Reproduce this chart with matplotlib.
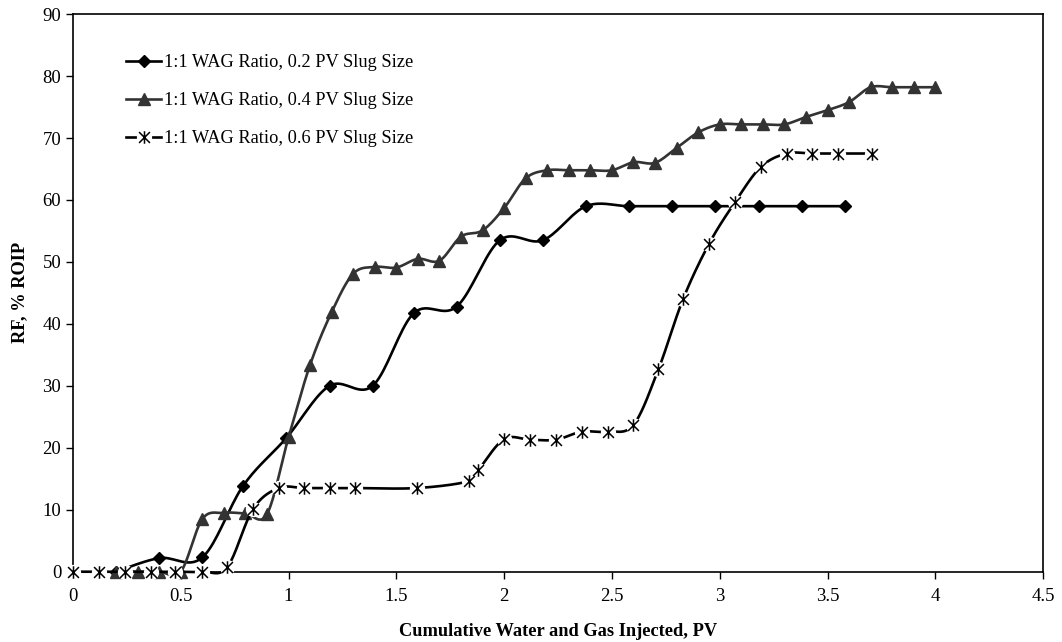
import numpy as np
import matplotlib
matplotlib.use("Agg")
import matplotlib.pyplot as plt
from matplotlib.path import Path
from matplotlib.lines import Line2D
from matplotlib.legend_handler import HandlerTuple

# Data
x_02 = [0.2, 0.4, 0.6, 0.79, 0.99, 1.19, 1.39, 1.58, 1.78, 1.98, 2.18, 2.38,
        2.58, 2.78, 2.98, 3.18, 3.38, 3.58]
rf_02 = [0, 2.2, 2.3, 13.9, 21.6, 30.0, 30.0, 41.7, 42.8, 53.5, 53.5, 59.0,
         59.0, 59.0, 59.0, 59.0, 59.0, 59.0]

x_04 = [0.2, 0.3, 0.4, 0.5, 0.6, 0.7, 0.8, 0.9, 1.0, 1.1, 1.2, 1.3, 1.4, 1.5,
        1.6, 1.7, 1.8, 1.9, 2.0, 2.1, 2.2, 2.3, 2.4, 2.5, 2.6, 2.7, 2.8, 2.9,
        3.0, 3.1, 3.2, 3.3, 3.4, 3.5, 3.6, 3.7, 3.8, 3.9, 4.0]
rf_04 = [0, 0, 0, 0, 8.5, 9.5, 9.4, 9.3, 21.7, 33.4, 41.9, 48.1, 49.2, 49.1,
         50.5, 50.2, 54.1, 55.1, 58.7, 63.5, 64.8, 64.8, 64.8, 64.8, 66.1,
         66.0, 68.4, 70.9, 72.2, 72.2, 72.2, 72.2, 73.4, 74.5, 75.8, 78.2,
         78.2, 78.2, 78.2]

x_06 = [0.0, 0.12, 0.24, 0.36, 0.475, 0.6, 0.715, 0.835, 0.954, 1.073, 1.19,
        1.31, 1.595, 1.835, 1.88, 2.0, 2.12, 2.24, 2.36, 2.48, 2.6, 2.716,
        2.83, 2.95, 3.07, 3.19, 3.31, 3.43, 3.55, 3.706]
rf_06 = [0, 0, 0, 0, 0, 0, 0.7, 10.1, 13.5, 13.5, 13.5, 13.5, 13.5, 14.6,
         16.4, 21.4, 21.3, 21.3, 22.6, 22.6, 23.7, 32.7, 44.0, 52.9, 59.6,
         65.3, 67.5, 67.5, 67.5, 67.5]

labels = ["1:1 WAG Ratio, 0.2 PV Slug Size",
          "1:1 WAG Ratio, 0.4 PV Slug Size",
          "1:1 WAG Ratio, 0.6 PV Slug Size"]

plt.rcParams['font.family'] = ['Liberation Serif', 'DejaVu Serif']
FS_TICK = 13.5
FS_LEG = 13.2
FS_LAB = 13.2
GRAY = "#333333"


def smooth(xs, ys, n=20):
    """Excel-like smoothed line (Catmull-Rom as cubic Bezier)."""
    p = np.column_stack([xs, ys]).astype(float)
    ext = np.vstack([p[0], p, p[-1]])
    out = []
    t = np.linspace(0, 1, n)[:, None]
    for i in range(1, len(ext) - 2):
        p0, p1, p2, p3 = ext[i - 1], ext[i], ext[i + 1], ext[i + 2]
        c1 = p1 + (p2 - p0) / 6.0
        c2 = p2 - (p3 - p1) / 6.0
        seg = ((1 - t) ** 3) * p1 + 3 * ((1 - t) ** 2) * t * c1 \
            + 3 * (1 - t) * t ** 2 * c2 + t ** 3 * p2
        out.append(seg if i == 1 else seg[1:])
    out = np.vstack(out)
    return out[:, 0], out[:, 1]


# asterisk marker: an X with a vertical bar
star = Path([(-1, -1), (1, 1), (-1, 1), (1, -1), (0, -1.15), (0, 1.15)],
            [Path.MOVETO, Path.LINETO, Path.MOVETO, Path.LINETO,
             Path.MOVETO, Path.LINETO])

fig = plt.figure(figsize=(10.62, 6.42), dpi=100)
ax = fig.add_axes([0.0687, 0.1095, 0.9135, 0.8685])

# series 1: diamonds
sx, sy = smooth(x_02, rf_02)
ax.plot(sx, sy, color="black", lw=1.9, clip_on=False, zorder=2)
ax.plot(x_02, rf_02, ls="none", marker="D", ms=5.8, color="black",
        clip_on=False, zorder=3)

# series 2: triangles
sx, sy = smooth(x_04, rf_04)
ax.plot(sx, sy, color=GRAY, lw=1.9, clip_on=False, zorder=4)
ax.plot(x_04, rf_04, ls="none", marker="^", ms=8.5, color=GRAY,
        clip_on=False, zorder=5)

# series 3: asterisks on white backing
sx, sy = smooth(x_06, rf_06)
ax.plot(sx, sy, color="black", lw=1.9, clip_on=False, zorder=6)
ax.plot(x_06, rf_06, ls="none", marker="o", ms=10, color="white",
        mec="white", clip_on=False, zorder=7)
ax.plot(x_06, rf_06, ls="none", marker=star, ms=9, mec="black", mfc="none",
        mew=1.1, clip_on=False, zorder=8)

ax.set_xlim(0, 4.5)
ax.set_ylim(0, 90)
ax.set_xticks(np.arange(0, 4.51, 0.5))
ax.set_xticklabels(["0", "0.5", "1", "1.5", "2", "2.5", "3", "3.5", "4", "4.5"])
ax.set_yticks(np.arange(0, 91, 10))
ax.tick_params(axis="both", labelsize=FS_TICK, direction="out", length=5,
               width=1, colors="black")
ax.tick_params(axis="x", pad=7)
for s in ax.spines.values():
    s.set_linewidth(1.2)

ax.set_xlabel("Cumulative Water and Gas Injected, PV", fontsize=FS_LAB,
              fontweight="bold", labelpad=13)
ax.set_ylabel("RF, % ROIP", fontsize=FS_LAB, fontweight="bold", labelpad=10)

h1 = Line2D([], [], color="black", lw=1.9, marker="D", ms=5.8)
h2 = Line2D([], [], color=GRAY, lw=1.9, marker="^", ms=8.5)
h3 = (Line2D([], [], color="black", lw=1.9),
      Line2D([], [], ls="none", marker="o", ms=10, color="white"),
      Line2D([], [], ls="none", marker=star, ms=9, mec="black", mfc="none",
             mew=1.1))
ax.legend([h1, h2, h3], labels, loc="upper left",
          bbox_to_anchor=(0.038, 0.958), frameon=False, fontsize=FS_LEG,
          handlelength=1.9, handletextpad=0.15, labelspacing=1.15,
          handler_map={tuple: HandlerTuple(ndivide=1)})

fig.savefig("out.png", dpi=100)
